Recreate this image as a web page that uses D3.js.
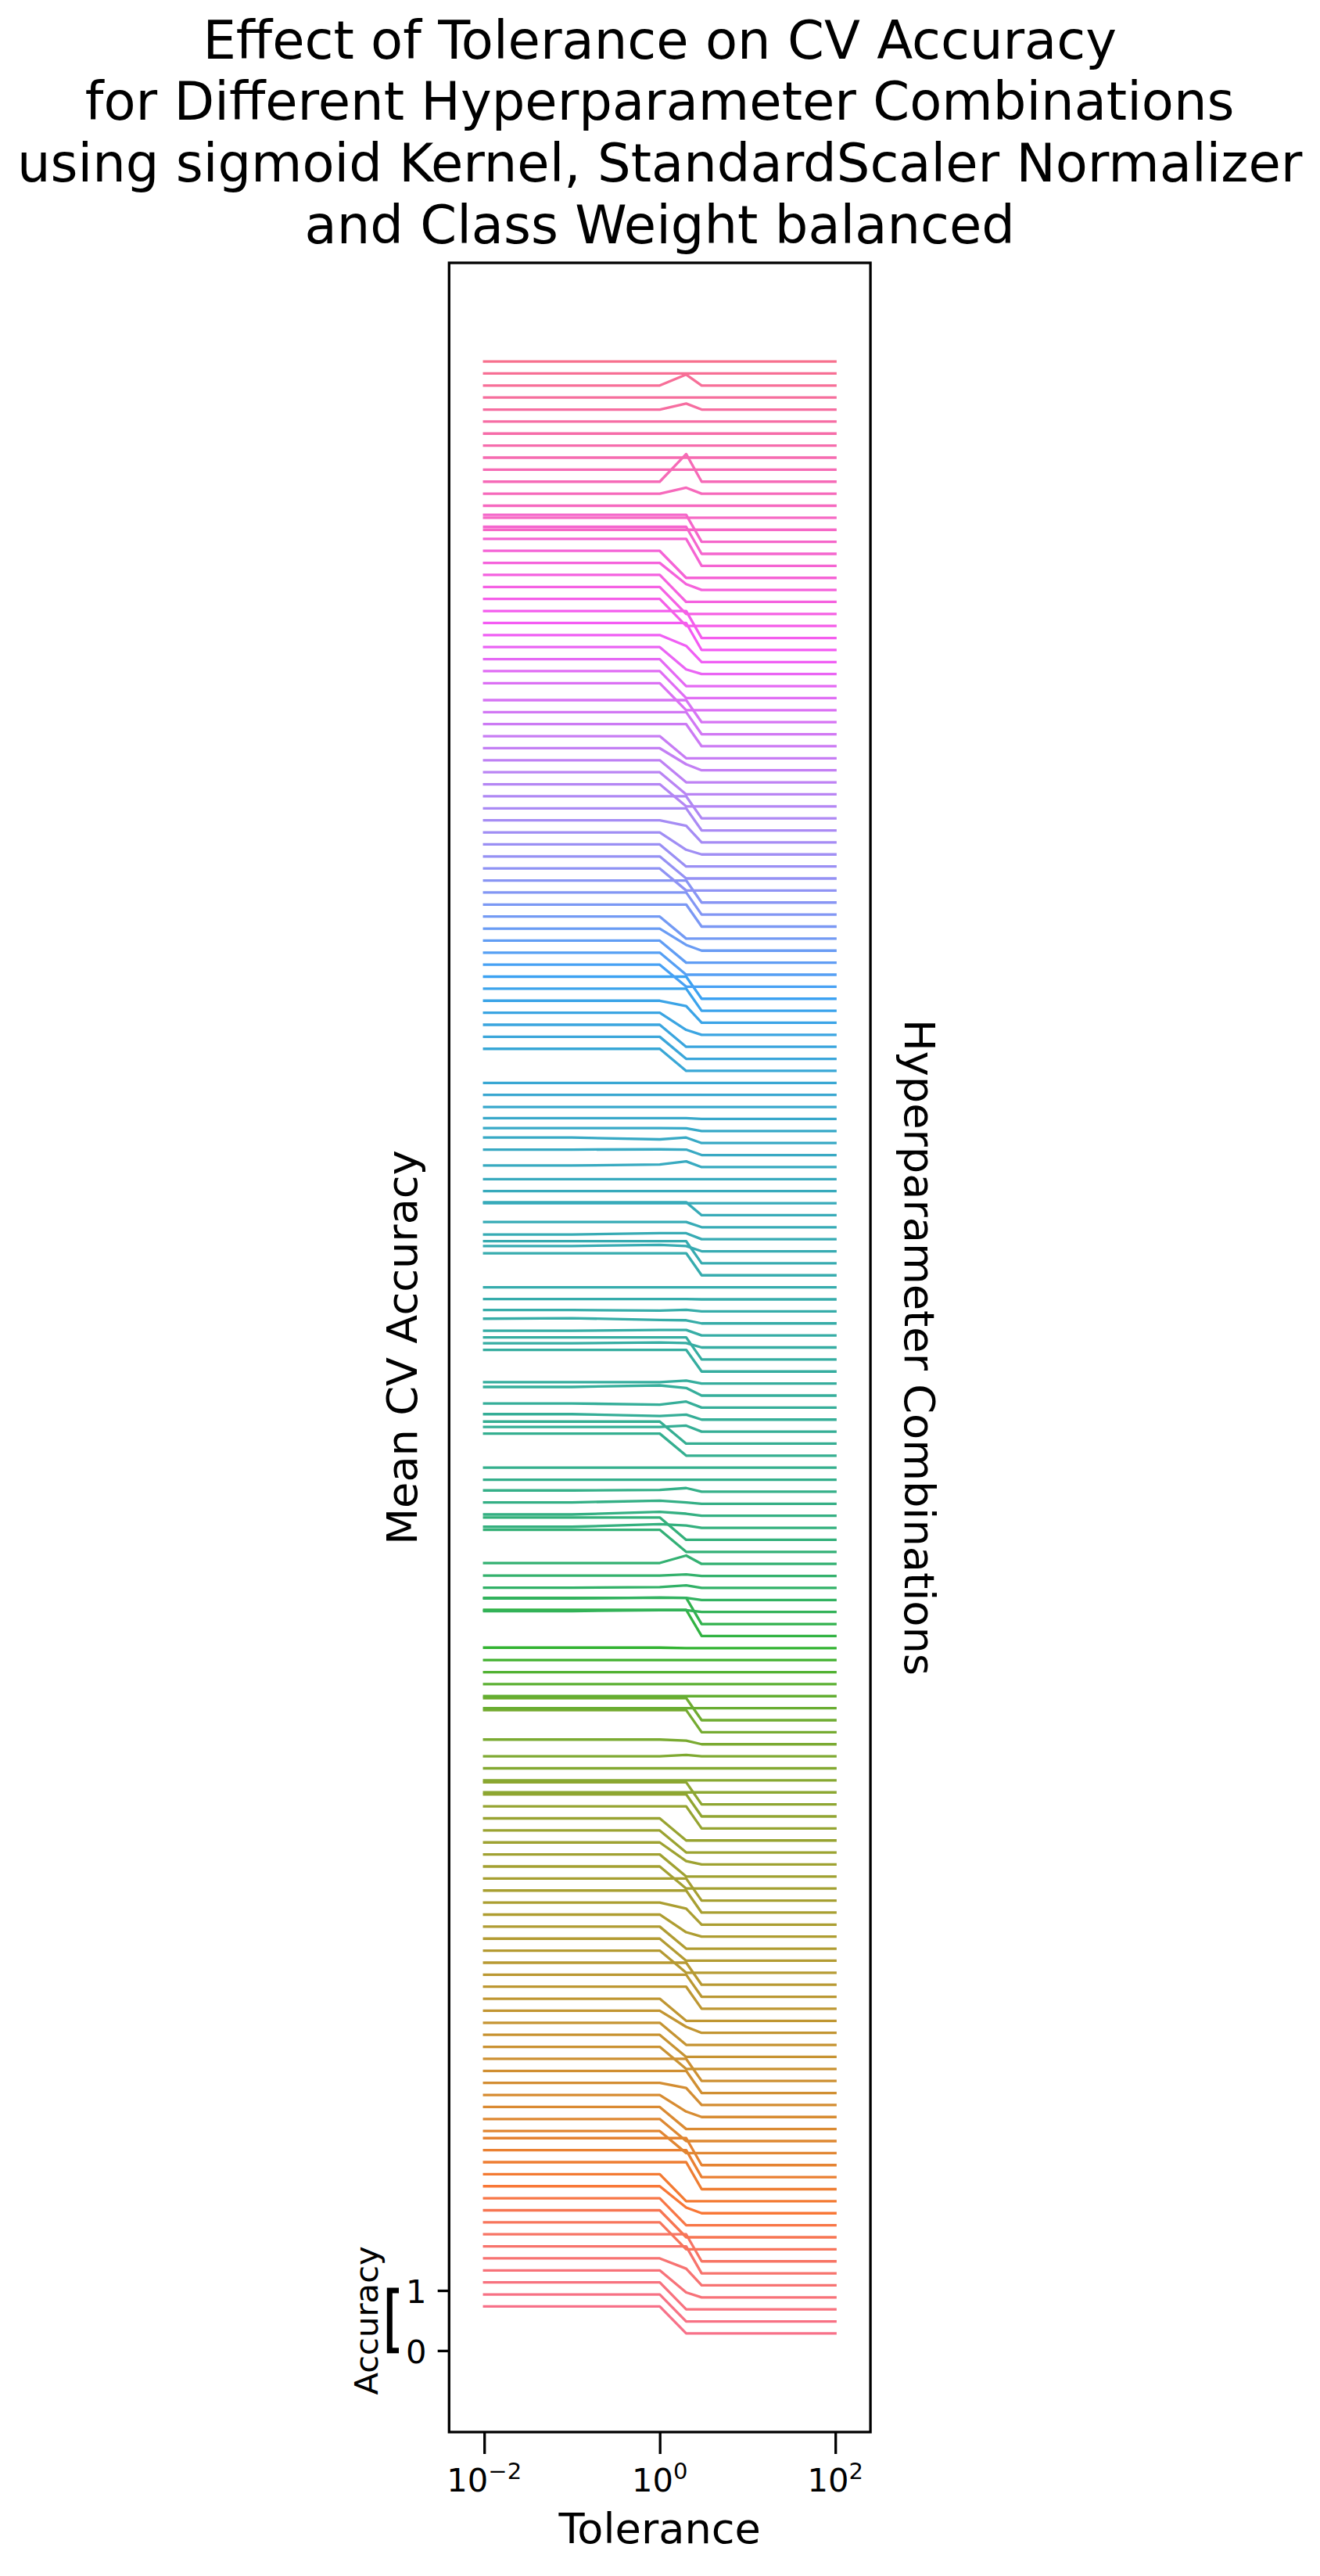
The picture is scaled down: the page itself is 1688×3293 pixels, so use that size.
<!DOCTYPE html>
<html>
<head>
<meta charset="utf-8">
<script src="https://cdn.jsdelivr.net/npm/d3@7"></script>
<style>html,body{margin:0;padding:0;background:#fff;}</style>
</head>
<body>
<svg id="chart" width="1688" height="3293"></svg>
<script>
// ---------------- DATA ----------------
const tolerances = [0.01, 0.1, 1, 2, 3, 100];

// Mean CV accuracy per hyperparameter combination (index 0 = bottom curve), one array per tolerance
const acc_tol_0_01 = [
  0.734,0.734,0.734,0.734,0.734,0.734,0.734,0.734,0.734,0.734,0.734,0.734,0.734,0.734,0.734,
  0.652,0.652,0.652,0.652,0.652,0.652,0.652,0.652,0.652,0.652,0.652,0.652,0.652,0.652,0.652,
  0.652,0.652,0.652,0.652,0.652,0.652,0.652,0.652,0.652,0.652,0.652,0.652,0.652,0.652,0.652,
  0.285,0.285,0.285,0.285,0.363,0.652,0.652,0.285,0.285,0.285,0.285,0.285,0.292,0.720,0.720,
  0.300,0.310,0.290,0.290,0.300,0.652,0.658,0.302,0.307,0.307,0.307,0.285,0.285,0.652,0.652,
  0.363,0.376,0.354,0.428,0.307,0.645,0.652,0.354,0.363,0.363,0.307,0.290,0.285,0.652,0.652,
  0.372,0.363,0.372,0.500,0.285,0.285,0.285,0.311,0.376,0.376,0.333,0.298,0.285,0.285,0.285,
  0.652,0.652,0.652,0.652,0.652,0.652,0.652,0.652,0.652,0.652,0.652,0.652,0.652,0.652,0.652,
  0.652,0.652,0.652,0.652,0.652,0.652,0.652,0.652,0.652,0.652,0.652,0.652,0.652,0.652,0.652,
  0.734,0.734,0.734,0.734,0.734,0.734,0.734,0.734,0.734,0.734,0.734,0.734,0.734,0.734,0.734,
  0.285,0.285,0.285,0.285,0.285,0.285,0.285,0.285,0.285,0.285,0.285,0.285,0.285,0.285,0.285
];
const acc_tol_0_1 = [
  0.734,0.734,0.734,0.734,0.734,0.734,0.734,0.734,0.734,0.734,0.734,0.734,0.734,0.734,0.734,
  0.652,0.652,0.652,0.652,0.652,0.652,0.652,0.652,0.652,0.652,0.652,0.652,0.652,0.652,0.652,
  0.652,0.652,0.652,0.652,0.652,0.652,0.652,0.652,0.652,0.652,0.652,0.652,0.652,0.652,0.652,
  0.285,0.285,0.285,0.285,0.363,0.652,0.652,0.285,0.285,0.285,0.285,0.285,0.292,0.720,0.720,
  0.300,0.310,0.290,0.290,0.300,0.652,0.658,0.302,0.307,0.307,0.307,0.285,0.285,0.652,0.652,
  0.363,0.376,0.354,0.428,0.307,0.645,0.652,0.354,0.363,0.372,0.307,0.290,0.285,0.652,0.652,
  0.372,0.363,0.372,0.500,0.285,0.285,0.285,0.311,0.376,0.376,0.333,0.298,0.285,0.285,0.285,
  0.652,0.652,0.652,0.652,0.652,0.652,0.652,0.652,0.652,0.652,0.652,0.652,0.652,0.652,0.652,
  0.652,0.652,0.652,0.652,0.652,0.652,0.652,0.652,0.652,0.652,0.652,0.652,0.652,0.652,0.652,
  0.734,0.734,0.734,0.734,0.734,0.734,0.734,0.734,0.734,0.734,0.734,0.734,0.734,0.734,0.734,
  0.285,0.285,0.285,0.285,0.285,0.285,0.285,0.285,0.285,0.285,0.285,0.285,0.285,0.285,0.285
];
const acc_tol_1 = [
  0.734,0.734,0.734,0.734,0.734,0.734,0.734,0.734,0.734,0.734,0.734,0.734,0.734,0.734,0.734,
  0.652,0.652,0.652,0.652,0.652,0.652,0.652,0.652,0.652,0.652,0.652,0.652,0.652,0.652,0.652,
  0.652,0.652,0.652,0.652,0.652,0.652,0.652,0.652,0.652,0.652,0.652,0.652,0.652,0.652,0.652,
  0.285,0.285,0.285,0.285,0.363,0.652,0.652,0.285,0.285,0.285,0.285,0.285,0.292,0.720,0.720,
  0.315,0.325,0.300,0.290,0.300,0.652,0.658,0.346,0.350,0.337,0.315,0.285,0.285,0.652,0.652,
  0.363,0.346,0.333,0.454,0.307,0.645,0.652,0.367,0.376,0.341,0.298,0.290,0.285,0.652,0.652,
  0.390,0.385,0.372,0.500,0.285,0.285,0.285,0.328,0.380,0.346,0.333,0.298,0.285,0.285,0.285,
  0.652,0.652,0.652,0.652,0.652,0.652,0.652,0.652,0.652,0.652,0.652,0.652,0.652,0.652,0.652,
  0.652,0.652,0.652,0.652,0.652,0.652,0.652,0.652,0.652,0.652,0.652,0.652,0.652,0.652,0.652,
  0.734,0.734,0.734,0.734,0.734,0.734,0.734,0.734,0.734,0.734,0.734,0.734,0.734,0.734,0.734,
  0.285,0.285,0.285,0.285,0.285,0.285,0.285,0.285,0.285,0.285,0.285,0.285,0.285,0.285,0.285
];
const acc_tol_2 = [
  0.285,0.285,0.285,0.367,0.563,0.734,0.734,0.285,0.285,0.285,0.380,0.285,0.734,0.734,0.734,
  0.285,0.285,0.285,0.376,0.567,0.652,0.652,0.285,0.285,0.285,0.385,0.285,0.652,0.652,0.652,
  0.285,0.285,0.285,0.359,0.550,0.652,0.652,0.285,0.285,0.341,0.285,0.285,0.652,0.652,0.652,
  0.285,0.285,0.285,0.307,0.346,0.652,0.652,0.285,0.285,0.285,0.285,0.285,0.285,0.720,0.720,
  0.315,0.320,0.328,0.311,0.424,0.285,0.285,0.324,0.320,0.307,0.346,0.285,0.285,0.285,0.285,
  0.385,0.367,0.385,0.411,0.333,0.645,0.652,0.359,0.376,0.337,0.311,0.290,0.285,0.652,0.652,
  0.372,0.385,0.372,0.500,0.285,0.285,0.285,0.380,0.376,0.376,0.330,0.298,0.285,0.285,0.285,
  0.285,0.285,0.285,0.367,0.563,0.652,0.652,0.285,0.285,0.285,0.380,0.285,0.652,0.652,0.652,
  0.285,0.285,0.285,0.363,0.563,0.652,0.652,0.285,0.285,0.285,0.385,0.285,0.652,0.652,0.652,
  0.285,0.285,0.285,0.363,0.554,0.734,0.734,0.285,0.285,0.285,0.380,0.285,0.734,0.734,0.734,
  0.285,0.285,0.285,0.385,0.745,0.285,0.285,0.285,0.285,0.285,0.385,0.285,0.467,0.285,0.285
];
const acc_tol_3 = [
  0.285,0.285,0.285,0.285,0.285,0.285,0.285,0.285,0.285,0.285,0.285,0.285,0.285,0.285,0.285,
  0.285,0.285,0.285,0.285,0.285,0.285,0.285,0.285,0.285,0.285,0.285,0.285,0.285,0.285,0.285,
  0.285,0.285,0.285,0.285,0.285,0.285,0.285,0.285,0.285,0.285,0.285,0.285,0.285,0.285,0.285,
  0.285,0.285,0.285,0.285,0.285,0.285,0.285,0.285,0.285,0.285,0.285,0.285,0.285,0.285,0.285,
  0.285,0.285,0.285,0.285,0.285,0.285,0.285,0.285,0.285,0.285,0.285,0.285,0.285,0.285,0.285,
  0.285,0.285,0.285,0.285,0.285,0.285,0.285,0.285,0.285,0.285,0.285,0.285,0.285,0.285,0.285,
  0.285,0.285,0.285,0.285,0.285,0.285,0.285,0.285,0.285,0.285,0.285,0.285,0.285,0.285,0.285,
  0.285,0.285,0.285,0.285,0.285,0.285,0.285,0.285,0.285,0.285,0.285,0.285,0.285,0.285,0.285,
  0.285,0.285,0.285,0.285,0.285,0.285,0.285,0.285,0.285,0.285,0.285,0.285,0.285,0.285,0.285,
  0.285,0.285,0.285,0.285,0.285,0.285,0.285,0.285,0.285,0.285,0.285,0.285,0.285,0.285,0.285,
  0.285,0.285,0.285,0.285,0.285,0.285,0.285,0.285,0.285,0.285,0.285,0.285,0.285,0.285,0.285
];
const acc_tol_100 = [
  0.285,0.285,0.285,0.285,0.285,0.285,0.285,0.285,0.285,0.285,0.285,0.285,0.285,0.285,0.285,
  0.285,0.285,0.285,0.285,0.285,0.285,0.285,0.285,0.285,0.285,0.285,0.285,0.285,0.285,0.285,
  0.285,0.285,0.285,0.285,0.285,0.285,0.285,0.285,0.285,0.285,0.285,0.285,0.285,0.285,0.285,
  0.285,0.285,0.285,0.285,0.285,0.285,0.285,0.285,0.285,0.285,0.285,0.285,0.285,0.285,0.285,
  0.285,0.285,0.285,0.285,0.285,0.285,0.285,0.285,0.285,0.285,0.285,0.285,0.285,0.285,0.285,
  0.285,0.285,0.285,0.285,0.285,0.285,0.285,0.285,0.285,0.285,0.285,0.285,0.285,0.285,0.285,
  0.285,0.285,0.285,0.285,0.285,0.285,0.285,0.285,0.285,0.285,0.285,0.285,0.285,0.285,0.285,
  0.285,0.285,0.285,0.285,0.285,0.285,0.285,0.285,0.285,0.285,0.285,0.285,0.285,0.285,0.285,
  0.285,0.285,0.285,0.285,0.285,0.285,0.285,0.285,0.285,0.285,0.285,0.285,0.285,0.285,0.285,
  0.285,0.285,0.285,0.285,0.285,0.285,0.285,0.285,0.285,0.285,0.285,0.285,0.285,0.285,0.285,
  0.285,0.285,0.285,0.285,0.285,0.285,0.285,0.285,0.285,0.285,0.285,0.285,0.285,0.285,0.285
];

const offsetStep = 0.2;               // vertical offset between successive combinations
const xTickValues = [0.01, 1, 100];
const xTickBase = ["10", "10", "10"];
const xTickExponents = ["\u22122", "0", "2"];
const yTickValues = [0, 1];
const yTickLabels = ["0", "1"];
const titleLines = [
  "Effect of Tolerance on CV Accuracy",
  "for Different Hyperparameter Combinations",
  "using sigmoid Kernel, StandardScaler Normalizer",
  "and Class Weight balanced"
];
const xLabel = "Tolerance";
const yLabel = "Mean CV Accuracy";
const rightLabel = "Hyperparameter Combinations";
const scaleBarLabel = "Accuracy";

// ---------------- HUSL palette (seaborn husl_palette) ----------------
const M = [[3.2406, -1.5372, -0.4986], [-0.9689, 1.8758, 0.0415], [0.0557, -0.2040, 1.0570]];
const refU = 0.19784, refV = 0.46834, labE = 0.008856, labK = 903.3;
function maxChroma(L, H) {
  const hrad = H * Math.PI / 180, sinH = Math.sin(hrad), cosH = Math.cos(hrad);
  const sub1 = Math.pow(L + 16, 3) / 1560896.0;
  const sub2 = sub1 > 0.008856 ? sub1 : L / 903.3;
  let result = Infinity;
  for (const [m1, m2, m3] of M) {
    const top = (0.99915 * m1 + 1.05122 * m2 + 1.14460 * m3) * sub2;
    const rbottom = 0.86330 * m3 - 0.17266 * m2;
    const lbottom = 0.12949 * m3 - 0.38848 * m1;
    const bottom = (rbottom * sinH + lbottom * cosH) * sub2;
    for (const t of [0, 1]) {
      const C = L * (top - 1.05122 * t) / (bottom + 0.17266 * sinH * t);
      if (C > 0 && C < result) result = C;
    }
  }
  return result;
}
function huslToRgb(H, S, L) {
  if (L > 99.9999999) return [1, 1, 1];
  if (L < 1e-8) return [0, 0, 0];
  const C = maxChroma(L, H) / 100 * S;
  const hrad = H * Math.PI / 180;
  const U = Math.cos(hrad) * C, V = Math.sin(hrad) * C;
  const t = (L + 16) / 116;
  const varY = Math.pow(t, 3) > labE ? Math.pow(t, 3) : (116 * t - 16) / labK;
  const varU = U / (13 * L) + refU, varV = V / (13 * L) + refV;
  const Y = varY;
  const X = 0 - (9 * Y * varU) / ((varU - 4) * varV - varU * varV);
  const Z = (9 * Y - 15 * varV * Y - varV * X) / (3 * varV);
  const fl = c => c <= 0.0031308 ? 12.92 * c : 1.055 * Math.pow(c, 1 / 2.4) - 0.055;
  return M.map(r => Math.min(1, Math.max(0, fl(r[0] * X + r[1] * Y + r[2] * Z))));
}
function huslPalette(n) {
  const out = [];
  for (let i = 0; i < n; i++) {
    const h = (i / n + 0.01) % 1;
    const rgb = huslToRgb(h * 359, 0.9 * 99, 0.65 * 99);
    out.push(d3.rgb(rgb[0] * 255, rgb[1] * 255, rgb[2] * 255).formatHex());
  }
  return out;
}

// ---------------- CHART ----------------
const W = 1688, H = 3293;
const plot = { left: 574.3, right: 1113.1, top: 336, bottom: 3109 };
const FONT = "'DejaVu Sans', sans-serif";
const LABEL_SIZE = 54.2;

const accuracyByTol = [acc_tol_0_01, acc_tol_0_1, acc_tol_1, acc_tol_2, acc_tol_3, acc_tol_100];
const nLines = acc_tol_0_01.length;
const series = d3.range(nLines).map(i =>
  tolerances.map((tol, k) => ({ tol, v: accuracyByTol[k][i] + i * offsetStep })));

const lx0 = Math.log10(d3.min(tolerances)), lx1 = Math.log10(d3.max(tolerances));
const xPad = 0.1 * (lx1 - lx0);
const x = d3.scaleLog().domain([Math.pow(10, lx0 - xPad), Math.pow(10, lx1 + xPad)])
  .range([plot.left, plot.right]);

const allV = series.flat().map(d => d.v);
const vMin = d3.min(allV), vMax = d3.max(allV), yPad = 0.05 * (vMax - vMin);
const y = d3.scaleLinear().domain([vMin - yPad, vMax + yPad]).range([plot.bottom, plot.top]);

const colors = huslPalette(nLines);
const svg = d3.select("#chart");
svg.append("rect").attr("width", W).attr("height", H).attr("fill", "#ffffff");

const line = d3.line().x(d => x(d.tol)).y(d => y(d.v));
svg.append("g").selectAll("path").data(series).join("path")
  .attr("d", line)
  .attr("fill", "none")
  .attr("stroke", (d, i) => colors[i])
  .attr("stroke-width", 3.3)
  .attr("stroke-linejoin", "round")
  .attr("stroke-linecap", "square");

// axes frame
svg.append("rect")
  .attr("x", plot.left).attr("y", plot.top)
  .attr("width", plot.right - plot.left).attr("height", plot.bottom - plot.top)
  .attr("fill", "none").attr("stroke", "#000").attr("stroke-width", 3.3);

// x axis
const gx = svg.append("g").attr("transform", `translate(0,${plot.bottom})`)
  .call(d3.axisBottom(x).tickValues(xTickValues).tickSize(28).tickFormat(() => ""));
gx.select(".domain").remove();
gx.selectAll(".tick line").attr("stroke", "#000").attr("stroke-width", 3.3);

const xl = svg.append("g").attr("font-family", FONT).attr("fill", "#000");
xTickValues.forEach((v, k) => {
  const t = xl.append("text").attr("x", x(v)).attr("y", 3185)
    .attr("text-anchor", "middle").attr("font-size", 41.7);
  t.append("tspan").text(xTickBase[k]);
  t.append("tspan").attr("dy", -16).attr("font-size", 29).text(xTickExponents[k]);
});

// y axis
const gy = svg.append("g").attr("transform", `translate(${plot.left},0)`)
  .call(d3.axisLeft(y).tickValues(yTickValues).tickSize(14.6).tickPadding(14.2)
    .tickFormat((d, k) => yTickLabels[k]));
gy.select(".domain").remove();
gy.selectAll(".tick line").attr("stroke", "#000").attr("stroke-width", 3.3);
gy.selectAll(".tick text").attr("font-family", FONT).attr("font-size", 41.7)
  .attr("fill", "#000").attr("dy", "0.364em");

// scale bar bracket
const y0 = y(0), y1 = y(1);
svg.append("path")
  .attr("d", `M510,${y1} H498.3 V${y0} H510`)
  .attr("fill", "none").attr("stroke", "#000").attr("stroke-width", 7)
  .attr("stroke-linejoin", "miter");
svg.append("text")
  .attr("transform", `translate(483,${(y0 + y1) / 2}) rotate(-90)`)
  .attr("text-anchor", "middle").attr("font-family", FONT).attr("font-size", 41.7)
  .attr("fill", "#000").text(scaleBarLabel);

// labels
const midX = (plot.left + plot.right) / 2, midY = (plot.top + plot.bottom) / 2;
svg.append("text").attr("x", midX).attr("y", 3251).attr("text-anchor", "middle")
  .attr("font-family", FONT).attr("font-size", LABEL_SIZE).attr("fill", "#000").text(xLabel);
svg.append("text").attr("transform", `translate(533,${midY}) rotate(-90)`)
  .attr("text-anchor", "middle").attr("font-family", FONT).attr("font-size", LABEL_SIZE)
  .attr("fill", "#000").text(yLabel);
svg.append("text").attr("transform", `translate(1157,${midY}) rotate(90)`)
  .attr("text-anchor", "middle").attr("font-family", FONT).attr("font-size", LABEL_SIZE)
  .attr("fill", "#000").text(rightLabel);

// title
const titleBase = 311, titleSpacing = 78.8;
titleLines.forEach((s, k) => {
  svg.append("text").attr("x", midX)
    .attr("y", titleBase - (titleLines.length - 1 - k) * titleSpacing)
    .attr("text-anchor", "middle").attr("font-family", FONT).attr("font-size", 67.2)
    .attr("fill", "#000").text(s);
});
</script>
</body>
</html>
